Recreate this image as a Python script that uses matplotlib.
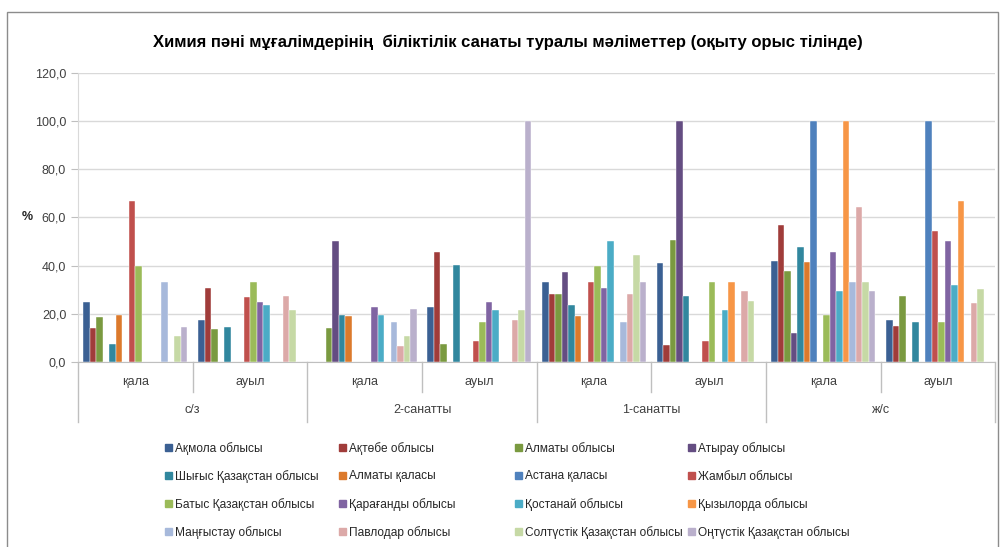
import numpy as np
import matplotlib.pyplot as plt
from matplotlib.patches import Rectangle
from matplotlib.ticker import FuncFormatter

plt.rcParams['font.family'] = ['Liberation Sans Narrow', 'Liberation Sans', 'DejaVu Sans']

TITLE = "Химия пәні мұғалімдерінің  біліктілік санаты туралы мәліметтер (оқыту орыс тілінде)"

# -- CATEGORIES
sub_labels = ["қала", "ауыл"] * 4
main_labels = ["с/з", "2-санатты", "1-санатты", "ж/с"]

regions = [
    "Ақмола облысы", "Ақтөбе облысы", "Алматы облысы", "Атырау облысы",
    "Шығыс Қазақстан облысы", "Алматы қаласы", "Астана қаласы", "Жамбыл облысы",
    "Батыс Қазақстан облысы", "Қарағанды облысы", "Қостанай облысы", "Қызылорда облысы",
    "Маңғыстау облысы", "Павлодар облысы", "Солтүстік Қазақстан облысы", "Оңтүстік Қазақстан облысы",
]

colors = [
    "#3B6093", "#A03C3A", "#7A9A40", "#644D82",
    "#31879E", "#DC7A2C", "#4F81BD", "#C0504D",
    "#9BBB59", "#8064A2", "#4BACC6", "#F79646",
    "#A7B9DB", "#DCA9A8", "#C6D9A5", "#BAB0CC",
]

# -- VALUES (one list per region, 8 categories each)
akmola     = [25.0, 17.6, 0.0, 22.9, 33.3, 41.0, 41.7, 17.6]
aktobe     = [14.2, 30.6, 0.0, 45.8, 28.2, 6.9, 56.8, 15.0]
almaty_obl = [18.6, 13.5, 13.9, 7.5, 28.2, 50.7, 37.9, 27.2]
atyrau     = [0.0, 0.0, 50.0, 0.0, 37.2, 100.0, 12.1, 0.0]
shygys     = [7.6, 14.6, 19.6, 40.1, 23.6, 27.4, 47.6, 16.7]
almaty_q   = [19.3, 0.0, 19.0, 0.0, 19.2, 0.0, 41.3, 0.0]
astana     = [0.0, 0.0, 0.0, 0.0, 0.0, 0.0, 100.0, 100.0]
zhambyl    = [66.7, 26.8, 0.0, 8.6, 33.3, 8.6, 0.0, 54.4]
batys      = [40.0, 33.3, 0.0, 16.4, 40.0, 33.3, 19.6, 16.4]
karagandy  = [0.0, 24.7, 22.9, 24.7, 30.6, 0.0, 45.8, 50.0]
kostanay   = [0.0, 23.5, 19.4, 21.4, 50.0, 21.4, 29.4, 32.1]
kyzylorda  = [0.0, 0.0, 0.0, 0.0, 0.0, 33.3, 100.0, 66.7]
mangystau  = [33.3, 0.0, 16.4, 0.0, 16.4, 0.0, 33.3, 0.0]
pavlodar   = [0.0, 27.4, 6.5, 17.6, 28.2, 29.3, 64.2, 24.6]
soltustik  = [10.7, 21.4, 10.7, 21.4, 44.2, 25.1, 33.3, 30.4]
ontustik   = [14.6, 0.0, 21.9, 100.0, 33.3, 0.0, 29.4, 0.0]

series = [akmola, aktobe, almaty_obl, atyrau, shygys, almaty_q, astana, zhambyl,
          batys, karagandy, kostanay, kyzylorda, mangystau, pavlodar, soltustik, ontustik]

fig = plt.figure(figsize=(10, 5.47), dpi=100)
ax = fig.add_axes([0.078, 0.3382, 0.9175, 0.5289])

x = np.arange(len(sub_labels))
bw = 0.0567
for k, (vals, col, name) in enumerate(zip(series, colors, regions)):
    ax.bar(x + 0.5 + (k - 7.5) * bw, vals, bw, color=col, label=name,
           edgecolor="white", linewidth=0.3, zorder=3)

ax.set_xlim(0, 8)
ax.set_ylim(0, 120)
ax.set_yticks(np.arange(0, 121, 20))
ax.yaxis.set_major_formatter(FuncFormatter(lambda v, p: f"{v:.1f}".replace(".", ",")))
ax.tick_params(axis="y", labelsize=9, colors="#404040", length=5, color="#BFBFBF")
ax.set_xticks([])
ax.grid(axis="y", color="#D9D9D9", linewidth=1, zorder=0)
for s in ["top", "right"]:
    ax.spines[s].set_visible(False)
ax.spines["left"].set_color("#D9D9D9")
ax.spines["bottom"].set_color("#BFBFBF")

ax.text(-0.055, 60, "%", transform=ax.get_yaxis_transform(), ha="center", va="center",
        fontsize=9, fontweight="bold", color="#262626")

# multi level category axis
trans = ax.get_xaxis_transform()
for i in range(9):
    low = -0.2074 if i % 2 == 0 else -0.1037
    ax.plot([i, i], [0, low], transform=trans, color="#BFBFBF", lw=1, clip_on=False)
for i, lab in enumerate(sub_labels):
    ax.text(i + 0.5, -0.069, lab, transform=trans, ha="center", va="center",
            fontsize=9, color="#404040")
for j, lab in enumerate(main_labels):
    ax.text(2 * j + 1, -0.166, lab, transform=trans, ha="center", va="center",
            fontsize=9, color="#404040")

fig.text(0.508, 0.923, TITLE, ha="center", va="center", fontsize=12, fontweight="bold")

# legend drawn by hand: 4 columns, filled row by row like the reference
col_x = [165, 339, 515, 688]
row_y = [447, 475, 503, 531]
W, H = 1000, 547
for k, name in enumerate(regions):
    px, py = col_x[k % 4], row_y[k // 4]
    fig.patches.append(Rectangle((px / W, (H - py - 3.5) / H), 7 / W, 7 / H,
                                 transform=fig.transFigure, color=colors[k]))
    fig.text((px + 10) / W, (H - py) / H, name, ha="left", va="center_baseline",
             fontsize=8.6, color="#262626")

fig.patches.append(Rectangle((0.007, -0.01), 0.991, 0.988, transform=fig.transFigure,
                             fill=False, edgecolor="#8C8C8C", lw=1))

fig.savefig("out.png", dpi=100)
